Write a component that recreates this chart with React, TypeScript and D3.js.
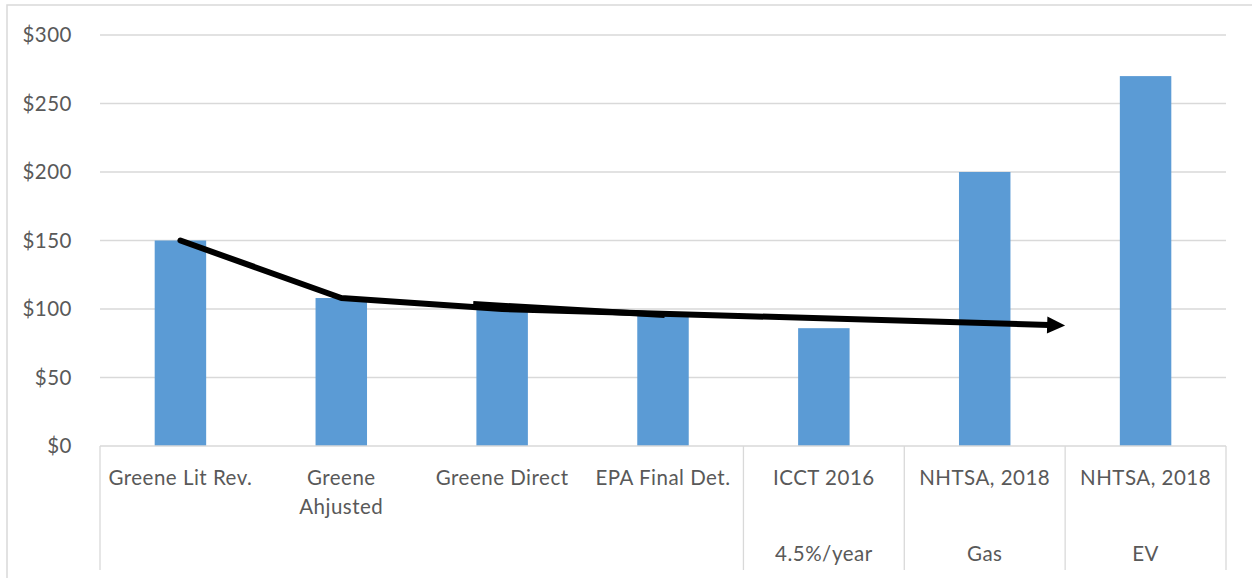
import React from "react";
import * as d3 from "d3";

const categories = [
  "Greene Lit Rev.",
  "Greene Ahjusted",
  "Greene Direct",
  "EPA Final Det.",
  "ICCT 2016",
  "NHTSA, 2018",
  "NHTSA, 2018",
];
const labelLines = [
  ["Greene Lit Rev."],
  ["Greene", "Ahjusted"],
  ["Greene Direct"],
  ["EPA Final Det."],
  ["ICCT 2016"],
  ["NHTSA, 2018"],
  ["NHTSA, 2018"],
];
const subLabels = ["", "", "", "", "4.5%/year", "Gas", "EV"];
const values = [150, 108, 101, 97, 86, 200, 270];
const yTicks = [0, 50, 100, 150, 200, 250, 300];
const trendIdx = [0, 1, 2, 5.5];
const trendVal = [150, 108, 100, 88];
const overlayIdx = [1.82, 3.01];
const overlayVal = [103.6, 95.6];

const W = 1252;
const H = 578;
const left = 100;
const right = 1226;
const top = 35;
const bottom = 446;
const FONT = "Lato, 'Open Sans', sans-serif";
const TXT = "#595959";
const GRID = "#d9d9d9";
const FS = 20.5;
const LS = 0.5;

export default function App() {
  const keys = categories.map((_, i) => String(i));
  const x = d3.scaleBand<string>().domain(keys).range([left, right]).paddingInner(0.68).paddingOuter(0.34);
  const step = (right - left) / categories.length;
  const xi = d3.scaleLinear().domain([0, categories.length - 1]).range([left + step / 2, right - step / 2]);
  const y = d3.scaleLinear().domain([0, 300]).range([bottom, top]);
  const line = d3.line<number>().x((_, i) => xi(trendIdx[i])).y((d) => y(d));
  const line2 = d3.line<number>().x((_, i) => xi(overlayIdx[i])).y((d) => y(d));

  const endX = xi(trendIdx[trendIdx.length - 1]);
  const endY = y(trendVal[trendVal.length - 1]);
  const prevX = xi(trendIdx[trendIdx.length - 2]);
  const prevY = y(trendVal[trendVal.length - 2]);
  const ang = Math.atan2(endY - prevY, endX - prevX);
  const aLen = 18, aHalf = 8.5;
  const bx = endX - aLen * Math.cos(ang), by = endY - aLen * Math.sin(ang);
  const arrow = [
    [endX, endY],
    [bx + aHalf * Math.sin(ang), by - aHalf * Math.cos(ang)],
    [bx - aHalf * Math.sin(ang), by + aHalf * Math.cos(ang)],
  ];
  const lineEndX = bx + 2 * Math.cos(ang), lineEndY = by + 2 * Math.sin(ang);
  const pts = trendVal.map((v, i) => [xi(trendIdx[i]), y(v)] as [number, number]);
  pts[pts.length - 1] = [lineEndX, lineEndY];
  const mainPath = d3.line()(pts) || "";

  const dividers = [left, xi(3.5), xi(4.5), xi(5.5), right];

  return (
    <svg width={W} height={H} style={{ position: "absolute", left: 0, top: 0, background: "#fff" }}>
      <rect x={7} y={5} width={W + 10} height={H + 10} fill="#fff" stroke={GRID} strokeWidth={1.5} />
      {yTicks.map((t) => (
        <g key={t}>
          {t > 0 && <line x1={left} x2={right} y1={y(t)} y2={y(t)} stroke={GRID} strokeWidth={1.3} />}
          <text x={72} y={y(t)} dy="0.35em" textAnchor="end" fontFamily={FONT} fontSize={FS} letterSpacing={LS} fill={TXT}>
            {"$" + t}
          </text>
        </g>
      ))}
      {values.map((v, i) => (
        <rect key={i} x={x(String(i))} y={y(v)} width={x.bandwidth()} height={y(0) - y(v)} fill="#5B9BD5" />
      ))}
      <line x1={left} x2={right} y1={bottom} y2={bottom} stroke={GRID} strokeWidth={1.3} />
      {dividers.map((d, i) => (
        <line key={i} x1={d} x2={d} y1={bottom} y2={570} stroke={GRID} strokeWidth={1.3} />
      ))}
      {labelLines.map((ls, i) =>
        ls.map((l, j) => (
          <text key={i + "-" + j} x={xi(i)} y={485 + j * 29} textAnchor="middle" fontFamily={FONT} fontSize={FS} letterSpacing={LS} fill={TXT}>
            {l}
          </text>
        ))
      )}
      {subLabels.map((s, i) => (
        <text key={"s" + i} x={xi(i)} y={561} textAnchor="middle" fontFamily={FONT} fontSize={FS} letterSpacing={LS} fill={TXT}>
          {s}
        </text>
      ))}
      <path d={mainPath} fill="none" stroke="#000" strokeWidth={6} strokeLinejoin="round" strokeLinecap="round" />
      <path d={line2(overlayVal) || ""} fill="none" stroke="#000" strokeWidth={6} />
      <polygon points={arrow.map((p) => p.join(",")).join(" ")} fill="#000" />
    </svg>
  );
}
